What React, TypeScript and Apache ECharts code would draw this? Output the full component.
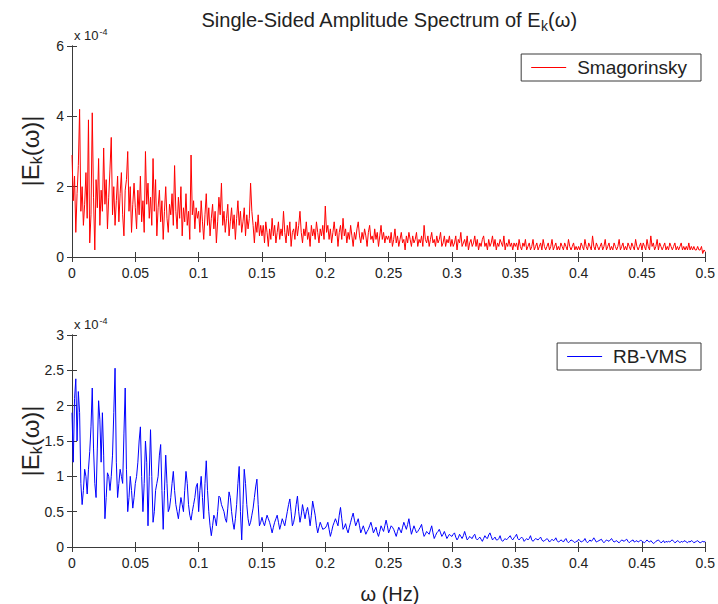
import React, { useEffect, useRef } from "react";
import * as echarts from "echarts";

// frequency spacing of the spectrum samples (Hz)
const FREQ_STEP = 0.001;

const xTickStep = 0.05;
const topYTickStep = 2;
const bottomYTickStep = 0.5;

// |E_k(omega)| in units of 1e-4, Smagorinsky (one row = 0.05 Hz)
const smagorinsky: number[] = [
  2.9, 1.6, 2.3, 0.7, 1.8, 2.6, 4.2, 1.3, 2.0, 0.9, 1.5, 2.4, 1.1, 3.9, 0.4, 1.2, 4.1, 1.7, 0.2, 2.2, 1.4, 2.8, 0.9, 1.9, 1.3, 3.1, 1.5, 2.2, 0.8, 1.7, 2.5, 3.4, 1.2, 2.0, 0.9, 1.6, 2.3, 1.0, 1.8, 2.4, 1.2, 0.6, 1.9, 2.2, 3.0, 1.3, 2.0, 0.7, 1.5, 2.1,
  1.4, 0.8, 1.9, 1.2, 2.3, 1.0, 1.6, 0.7, 3.0, 1.5, 2.1, 1.1, 1.7, 0.9, 2.8, 1.3, 2.2, 0.6, 1.4, 1.9, 1.0, 1.6, 0.5, 1.3, 2.0, 1.1, 0.7, 1.5, 1.2, 1.8, 0.9, 2.6, 1.3, 0.8, 1.7, 1.1, 2.0, 0.6, 1.4, 1.0, 1.8, 0.9, 1.3, 0.5, 2.9, 1.2, 1.6, 0.8, 1.4, 1.1,
  1.3, 0.7, 1.6, 1.0, 0.5, 1.2, 1.8, 0.9, 1.4, 0.6, 1.1, 1.5, 0.8, 1.3, 0.4, 1.0, 1.7, 1.2, 2.1, 0.9, 1.3, 0.7, 1.1, 1.5, 0.6, 1.0, 1.4, 0.8, 1.2, 0.5, 1.1, 1.6, 0.9, 1.3, 0.7, 1.0, 1.4, 0.6, 1.2, 0.8, 1.1, 2.1, 1.3, 0.9, 0.4, 1.0, 0.7, 1.2, 0.6, 0.9,
  0.6, 0.9, 0.4, 1.0, 0.7, 0.3, 0.8, 0.5, 1.1, 0.6, 0.9, 0.4, 0.7, 1.0, 0.5, 0.8, 0.6, 1.3, 0.7, 0.4, 0.9, 0.6, 1.0, 0.3, 0.7, 0.8, 0.5, 1.0, 0.6, 0.9, 1.3, 0.7, 0.4, 0.8, 0.6, 1.0, 0.5, 0.7, 0.3, 0.9, 0.6, 0.8, 0.5, 1.0, 0.7, 0.4, 0.8, 0.6, 0.9, 0.5,
  1.45, 0.7, 0.9, 0.5, 0.8, 0.4, 0.7, 1.0, 0.6, 0.8, 0.3, 0.7, 0.9, 0.5, 1.1, 0.6, 0.8, 0.4, 0.7, 0.5, 0.9, 0.6, 0.3, 0.7, 0.5, 0.8, 1.0, 0.6, 0.4, 0.7, 0.5, 0.8, 0.6, 0.3, 0.7, 0.9, 0.5, 0.6, 0.4, 0.8, 0.5, 0.7, 0.3, 0.6, 0.9, 0.5, 0.7, 0.4, 0.6, 0.5,
  0.6, 0.4, 0.7, 0.3, 0.5, 0.8, 0.4, 0.6, 0.3, 0.5, 0.7, 0.4, 0.5, 0.2, 0.6, 0.4, 0.7, 0.5, 0.3, 0.6, 0.4, 0.5, 0.7, 0.3, 0.5, 0.4, 0.6, 0.3, 0.9, 0.5, 0.4, 0.6, 0.3, 0.5, 0.7, 0.4, 0.5, 0.3, 0.6, 0.4, 0.5, 0.7, 0.3, 0.4, 0.6, 0.3, 0.5, 0.4, 0.6, 0.3,
  0.5, 0.3, 0.4, 0.6, 0.2, 0.5, 0.4, 0.7, 0.3, 0.4, 0.5, 0.3, 0.6, 0.2, 0.4, 0.5, 0.3, 0.4, 0.6, 0.3, 0.5, 0.2, 0.4, 0.3, 0.5, 0.6, 0.3, 0.4, 0.2, 0.5, 0.3, 0.4, 0.6, 0.3, 0.5, 0.2, 0.4, 0.3, 0.5, 0.4, 0.3, 0.6, 0.2, 0.4, 0.3, 0.5, 0.3, 0.4, 0.2, 0.4,
  0.3, 0.4, 0.2, 0.5, 0.3, 0.2, 0.4, 0.3, 0.5, 0.2, 0.3, 0.4, 0.2, 0.3, 0.5, 0.2, 0.3, 0.4, 0.2, 0.3, 0.4, 0.2, 0.5, 0.3, 0.2, 0.3, 0.4, 0.2, 0.3, 0.5, 0.2, 0.3, 0.4, 0.2, 0.3, 0.2, 0.4, 0.3, 0.2, 0.4, 0.3, 0.2, 0.5, 0.3, 0.2, 0.3, 0.4, 0.2, 0.3, 0.2,
  0.3, 0.2, 0.4, 0.3, 0.2, 0.5, 0.3, 0.2, 0.4, 0.3, 0.2, 0.6, 0.3, 0.2, 0.4, 0.3, 0.2, 0.3, 0.4, 0.2, 0.3, 0.5, 0.2, 0.3, 0.4, 0.2, 0.3, 0.2, 0.4, 0.3, 0.2, 0.3, 0.5, 0.2, 0.3, 0.4, 0.2, 0.3, 0.2, 0.4, 0.3, 0.2, 0.4, 0.3, 0.2, 0.5, 0.3, 0.2, 0.3, 0.4,
  0.2, 0.4, 0.3, 0.2, 0.5, 0.3, 0.2, 0.6, 0.3, 0.4, 0.2, 0.3, 0.5, 0.2, 0.4, 0.3, 0.2, 0.3, 0.4, 0.2, 0.3, 0.2, 0.4, 0.3, 0.2, 0.3, 0.4, 0.2, 0.3, 0.2, 0.3, 0.4, 0.2, 0.3, 0.2, 0.3, 0.2, 0.4, 0.2, 0.3, 0.2, 0.3, 0.2, 0.2, 0.3, 0.2, 0.2, 0.3, 0.1, 0.2, 0.15,
];

// |E_k(omega)| in units of 1e-4, RB-VMS (one row = 0.05 Hz)
const rbvms: number[] = [
  1.9, 1.2, 2.1, 2.38, 1.5, 2.2, 1.9, 0.9, 0.6, 0.8, 1.1, 1.0, 0.75, 1.1, 1.35, 1.7, 2.25, 1.4, 0.9, 0.7, 1.4, 2.07, 1.8, 1.2, 1.9, 1.3, 0.4, 0.7, 1.05, 1.0, 0.8, 1.0, 1.3, 1.9, 2.53, 1.2, 0.7, 0.9, 1.1, 1.0, 0.9, 1.6, 2.25, 1.1, 0.5, 0.7, 1.0, 0.8, 0.55, 0.7,
  0.9, 1.0, 1.2, 1.5, 1.7, 1.0, 0.5, 0.9, 1.5, 1.2, 0.3, 1.0, 1.66, 1.0, 0.35, 0.5, 0.8, 0.9, 1.0, 1.3, 1.45, 0.8, 0.25, 0.8, 1.3, 0.9, 0.5, 0.55, 0.7, 0.9, 1.07, 0.8, 0.6, 0.5, 0.4, 0.55, 0.7, 0.6, 0.5, 0.8, 1.07, 0.9, 0.6, 0.45, 0.38, 0.5, 0.6, 0.7, 0.85, 0.9,
  0.5, 0.8, 1.0, 0.7, 0.4, 0.9, 1.22, 0.8, 0.5, 0.3, 0.16, 0.3, 0.45, 0.4, 0.3, 0.5, 0.72, 0.7, 0.6, 0.55, 0.5, 0.4, 0.35, 0.55, 0.78, 0.7, 0.5, 0.35, 0.25, 0.4, 0.6, 0.9, 1.14, 0.5, 0.1, 0.6, 1.1, 0.9, 0.6, 0.4, 0.3, 0.35, 0.45, 0.55, 0.7, 0.85, 0.96, 0.6, 0.3, 0.35,
  0.42, 0.35, 0.3, 0.38, 0.45, 0.4, 0.35, 0.28, 0.2, 0.28, 0.35, 0.4, 0.45, 0.35, 0.25, 0.32, 0.4, 0.35, 0.3, 0.4, 0.5, 0.6, 0.68, 0.5, 0.3, 0.35, 0.45, 0.6, 0.72, 0.5, 0.35, 0.45, 0.6, 0.5, 0.4, 0.5, 0.56, 0.45, 0.3, 0.45, 0.65, 0.55, 0.45, 0.3, 0.2, 0.28, 0.35, 0.3, 0.25, 0.26,
  0.27, 0.3, 0.35, 0.25, 0.15, 0.22, 0.3, 0.35, 0.4, 0.35, 0.3, 0.45, 0.56, 0.4, 0.25, 0.28, 0.33, 0.25, 0.2, 0.28, 0.35, 0.42, 0.48, 0.38, 0.3, 0.35, 0.4, 0.3, 0.2, 0.25, 0.3, 0.24, 0.18, 0.22, 0.25, 0.3, 0.35, 0.28, 0.2, 0.24, 0.28, 0.2, 0.15, 0.22, 0.3, 0.26, 0.22, 0.3, 0.38, 0.3,
  0.2, 0.25, 0.3, 0.28, 0.25, 0.2, 0.15, 0.22, 0.28, 0.24, 0.2, 0.28, 0.35, 0.3, 0.25, 0.32, 0.4, 0.28, 0.18, 0.24, 0.3, 0.25, 0.2, 0.22, 0.25, 0.28, 0.32, 0.22, 0.15, 0.18, 0.22, 0.2, 0.18, 0.24, 0.3, 0.2, 0.12, 0.16, 0.2, 0.22, 0.25, 0.2, 0.15, 0.18, 0.22, 0.17, 0.12, 0.15, 0.18, 0.16,
  0.15, 0.18, 0.2, 0.14, 0.1, 0.13, 0.18, 0.15, 0.12, 0.16, 0.22, 0.16, 0.1, 0.12, 0.15, 0.13, 0.12, 0.16, 0.18, 0.12, 0.1, 0.12, 0.14, 0.11, 0.08, 0.12, 0.16, 0.13, 0.12, 0.17, 0.2, 0.15, 0.1, 0.12, 0.14, 0.1, 0.1, 0.12, 0.16, 0.1, 0.08, 0.1, 0.12, 0.1, 0.12, 0.14, 0.16, 0.12, 0.1, 0.13,
  0.15, 0.18, 0.12, 0.1, 0.12, 0.14, 0.12, 0.08, 0.1, 0.12, 0.1, 0.12, 0.16, 0.1, 0.08, 0.1, 0.12, 0.11, 0.1, 0.12, 0.14, 0.1, 0.08, 0.09, 0.1, 0.12, 0.1, 0.07, 0.09, 0.11, 0.09, 0.1, 0.13, 0.09, 0.07, 0.08, 0.1, 0.09, 0.07, 0.1, 0.12, 0.08, 0.06, 0.08, 0.1, 0.09, 0.08, 0.06, 0.08, 0.08,
  0.11, 0.09, 0.07, 0.08, 0.09, 0.12, 0.08, 0.06, 0.08, 0.1, 0.08, 0.1, 0.13, 0.1, 0.07, 0.08, 0.09, 0.1, 0.11, 0.08, 0.06, 0.08, 0.1, 0.09, 0.08, 0.1, 0.12, 0.09, 0.07, 0.08, 0.09, 0.07, 0.06, 0.08, 0.1, 0.09, 0.08, 0.1, 0.11, 0.08, 0.06, 0.08, 0.09, 0.1, 0.07, 0.08, 0.09, 0.07, 0.08, 0.1,
  0.08, 0.07, 0.06, 0.08, 0.1, 0.08, 0.07, 0.09, 0.07, 0.05, 0.06, 0.08, 0.09, 0.1, 0.08, 0.06, 0.07, 0.09, 0.06, 0.08, 0.07, 0.08, 0.07, 0.09, 0.1, 0.08, 0.06, 0.07, 0.09, 0.08, 0.06, 0.08, 0.07, 0.08, 0.09, 0.07, 0.06, 0.08, 0.07, 0.09, 0.08, 0.06, 0.07, 0.08, 0.09, 0.07, 0.06, 0.07, 0.08, 0.07, 0.08,
];

const FONT = "'Liberation Sans', Arial, Helvetica, sans-serif";
const AXIS_COLOR = "#3a3a3a";
const TEXT_COLOR = "#222";

const fmt = (v: number) => String(+v.toFixed(2));

function xAxisPair(grid: number) {
  const base = {
    gridIndex: grid,
    type: "value" as const,
    min: 0,
    max: 0.5,
    interval: xTickStep,
    splitLine: { show: false },
    axisLine: { lineStyle: { color: AXIS_COLOR, width: 1 } },
    axisTick: { inside: true, length: 5, lineStyle: { color: AXIS_COLOR } },
  };
  return [
    {
      ...base,
      position: "bottom",
      axisLabel: { fontSize: 14, color: TEXT_COLOR, fontFamily: FONT, margin: 9, formatter: fmt },
    },
    { ...base, position: "top", axisLabel: { show: false } },
  ];
}

function yAxisPair(grid: number, max: number, step: number) {
  const base = {
    gridIndex: grid,
    type: "value" as const,
    min: 0,
    max,
    interval: step,
    splitLine: { show: false },
    axisLine: { show: true, lineStyle: { color: AXIS_COLOR, width: 1 } },
    axisTick: { show: true, inside: true, length: 5, lineStyle: { color: AXIS_COLOR } },
  };
  return [
    {
      ...base,
      position: "left",
      axisLabel: { fontSize: 14, color: TEXT_COLOR, fontFamily: FONT, margin: 8, formatter: fmt },
    },
    { ...base, position: "right", axisLabel: { show: false } },
  ];
}

export default function App() {
  const ref = useRef<HTMLDivElement>(null);

  useEffect(() => {
    if (!ref.current) return;
    const chart = echarts.init(ref.current, null, { renderer: "svg" });
    const toPairs = (arr: number[]) => arr.map((v, i) => [+(i * FREQ_STEP).toFixed(4), v]);

    const legendBase = {
      orient: "horizontal" as const,
      backgroundColor: "#fff",
      borderColor: AXIS_COLOR,
      borderWidth: 1,
      borderRadius: 0,
      icon: "rect",
      itemWidth: 35,
      itemHeight: 1,
      textStyle: { fontSize: 19, color: TEXT_COLOR, fontFamily: FONT, padding: [0, 0, 0, 6] },
    };

    const subStyle = { fontSize: 14, fontFamily: FONT, color: TEXT_COLOR, padding: [12, 0, 0, 0] };

    const yLabel = (cy: number) => ({
      type: "text",
      x: 30,
      y: cy,
      rotation: Math.PI / 2,
      style: {
        text: "|E{sub|k}(ω)|",
        fontSize: 24,
        fontFamily: FONT,
        fill: TEXT_COLOR,
        align: "center",
        verticalAlign: "middle",
        rich: { sub: { ...subStyle, fontSize: 16, padding: [13, 0, 0, 0] } },
      },
    });

    const scaleLabel = (x: number, y: number) => ({
      type: "text",
      x,
      y,
      style: {
        text: "x 10{sup|-4}",
        fontSize: 13,
        fontFamily: FONT,
        fill: TEXT_COLOR,
        align: "left",
        verticalAlign: "bottom",
        rich: { sup: { fontSize: 9, fontFamily: FONT, color: TEXT_COLOR, padding: [0, 0, 8, 1] } },
      },
    });

    chart.setOption({
      animation: false,
      backgroundColor: "#fff",
      grid: [
        { left: 72, top: 46, width: 636, height: 211, containLabel: false },
        { left: 72, top: 335, width: 636, height: 212, containLabel: false },
      ],
      xAxis: [...xAxisPair(0), ...xAxisPair(1)],
      yAxis: [...yAxisPair(0, 6, topYTickStep), ...yAxisPair(1, 3, bottomYTickStep)],
      legend: [
        { ...legendBase, data: ["Smagorinsky"], right: 17, top: 54, padding: [4, 14, 4, 10] },
        { ...legendBase, data: ["RB-VMS"], right: 17, top: 343, padding: [4, 14, 4, 10] },
      ],
      series: [
        {
          type: "line",
          name: "Smagorinsky",
          xAxisIndex: 0,
          yAxisIndex: 0,
          data: toPairs(smagorinsky),
          symbol: "none",
          showSymbol: false,
          lineStyle: { color: "#ff0000", width: 1 },
          itemStyle: { color: "#ff0000" },
        },
        {
          type: "line",
          name: "RB-VMS",
          xAxisIndex: 2,
          yAxisIndex: 2,
          data: toPairs(rbvms),
          symbol: "none",
          showSymbol: false,
          lineStyle: { color: "#0000ff", width: 1 },
          itemStyle: { color: "#0000ff" },
        },
      ],
      graphic: [
        {
          type: "text",
          x: 389,
          y: 20,
          style: {
            text: "Single-Sided Amplitude Spectrum of E{sub|k}(ω)",
            fontSize: 20,
            fontFamily: FONT,
            fill: TEXT_COLOR,
            align: "center",
            verticalAlign: "middle",
            rich: { sub: subStyle },
          },
        },
        scaleLabel(74, 44),
        scaleLabel(74, 333),
        yLabel(151),
        yLabel(441),
        {
          type: "text",
          x: 390,
          y: 594,
          style: {
            text: "ω (Hz)",
            fontSize: 20,
            fontFamily: FONT,
            fill: TEXT_COLOR,
            align: "center",
            verticalAlign: "middle",
          },
        },
      ],
    });

    return () => chart.dispose();
  }, []);

  return (
    <div
      ref={ref}
      style={{ position: "absolute", left: 0, top: 0, width: 718, height: 604 }}
    />
  );
}
